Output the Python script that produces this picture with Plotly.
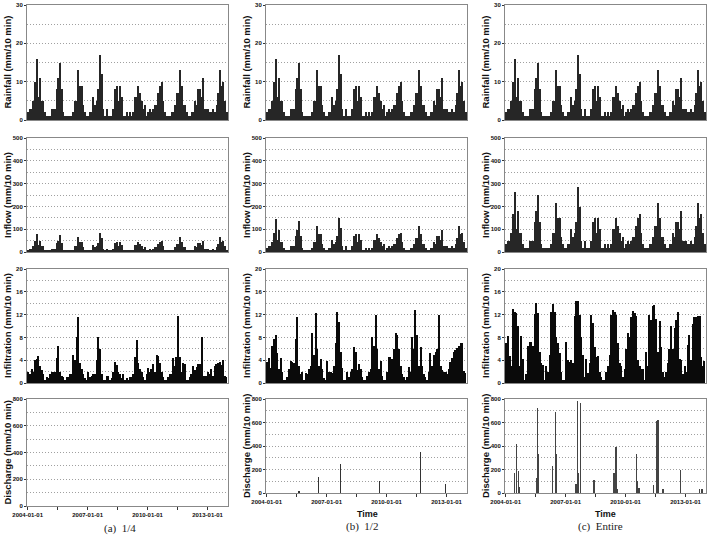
import pandas as pd
import plotly.graph_objects as go
from plotly.subplots import make_subplots

# ---------------- data (monthly peak values, Jan 2004 - Dec 2013) ----------------
rain = [2, 3, 3, 5, 10, 16, 6, 11, 5, 5, 2, 1,
        1, 1, 3, 3, 3, 8, 11, 15, 8, 2, 1, 1,
        1, 1, 1, 2, 5, 5, 13, 9, 9, 4, 2, 1,
        1, 2, 2, 6, 4, 5, 8, 17, 12, 3, 1, 3,
        1, 1, 1, 3, 8, 9, 5, 9, 6, 1, 1, 2,
        1, 2, 1, 2, 6, 6, 9, 7, 5, 3, 4, 1,
        2, 3, 2, 3, 4, 4, 7, 9, 10, 5, 2, 1,
        1, 1, 2, 2, 4, 7, 7, 13, 9, 4, 4, 2,
        1, 1, 2, 2, 5, 4, 8, 8, 6, 11, 3, 3,
        3, 2, 2, 3, 2, 4, 7, 13, 9, 10, 5, 2]

inflow_a = [10, 15, 15, 25, 50, 78, 30, 50, 25, 25, 10, 5,
            5, 5, 15, 15, 15, 40, 50, 75, 40, 10, 5, 5,
            5, 5, 5, 10, 25, 25, 65, 45, 45, 20, 10, 5,
            5, 10, 10, 30, 20, 25, 40, 85, 60, 15, 5, 15,
            5, 5, 5, 15, 40, 45, 25, 45, 30, 5, 5, 10,
            5, 10, 5, 10, 30, 30, 45, 35, 25, 15, 20, 5,
            10, 15, 10, 15, 20, 20, 35, 45, 50, 25, 10, 5,
            5, 5, 10, 10, 20, 35, 35, 65, 45, 20, 20, 10,
            5, 5, 10, 10, 25, 20, 40, 40, 30, 50, 15, 15,
            15, 10, 10, 15, 10, 20, 35, 65, 45, 50, 25, 10]

inflow_b = [18, 27, 27, 44, 85, 145, 52, 95, 44, 44, 18, 9,
            9, 9, 27, 27, 27, 70, 95, 135, 70, 18, 9, 9,
            9, 9, 9, 18, 44, 44, 115, 80, 80, 35, 18, 9,
            9, 18, 18, 52, 35, 44, 70, 150, 105, 27, 9, 27,
            9, 9, 9, 27, 70, 80, 44, 80, 52, 9, 9, 18,
            9, 18, 9, 18, 52, 52, 80, 61, 44, 27, 35, 9,
            18, 27, 18, 27, 35, 35, 61, 80, 85, 44, 18, 9,
            9, 9, 18, 18, 35, 61, 61, 115, 80, 35, 35, 18,
            9, 9, 18, 18, 44, 35, 70, 70, 52, 95, 27, 27,
            27, 18, 18, 27, 18, 35, 61, 115, 80, 85, 44, 18]

inflow_c = [33, 50, 50, 83, 165, 265, 100, 180, 83, 83, 33, 18,
            18, 18, 50, 50, 50, 132, 180, 250, 132, 33, 18, 18,
            18, 18, 18, 33, 83, 83, 215, 150, 150, 66, 33, 18,
            18, 33, 33, 100, 66, 83, 132, 285, 198, 50, 18, 50,
            18, 18, 18, 50, 132, 150, 83, 150, 100, 18, 18, 33,
            18, 33, 18, 33, 100, 100, 150, 115, 83, 50, 66, 18,
            33, 50, 33, 50, 66, 66, 115, 150, 165, 83, 33, 18,
            18, 18, 33, 33, 66, 115, 115, 215, 150, 66, 66, 33,
            18, 18, 33, 33, 83, 66, 132, 132, 100, 180, 50, 50,
            50, 33, 33, 50, 33, 66, 115, 215, 150, 165, 83, 33]

infil_a = [2, 1.5, 2.5, 2, 4, 4.2, 4.8, 3, 2.3, 1.5, 0.5, 1,
           0.8, 1.5, 2, 2, 2, 4.3, 6.5, 2, 1.2, 1, 0.5, 1,
           1, 1.5, 1.5, 5, 4, 8, 11.5, 3.5, 2.5, 1.5, 0.8, 0.5,
           2, 1, 1.2, 1.5, 1.5, 4, 8, 6, 1.6, 0.6, 0.5, 1.2,
           1.2, 0.6, 0.8, 2, 3.6, 3.1, 2, 1.5, 0.8, 1.5, 0.6, 0.8,
           0.5, 1, 1, 1.5, 4.5, 7.6, 3.5, 2.5, 2, 1, 0.6, 1.5,
           2.6, 2, 2.5, 3.4, 2, 4.9, 4.8, 3.5, 2, 1, 0.5, 0.5,
           1, 1.5, 1.5, 4.4, 3, 4.5, 11.7, 4.6, 2, 3.5, 3.3, 0.5,
           0.5, 1, 1.5, 3, 2.2, 2.8, 3.3, 3.3, 8, 1.3, 1.2, 1.2,
           2, 1.5, 2.5, 1.3, 3, 3.3, 3.5, 3.6, 3.2, 4, 1.2, 1]

infil_b = [3.7, 4.3, 2.7, 6.5, 7.8, 8.5, 5.2, 2.5, 4.4, 2, 0.6, 0.5,
           1, 2.5, 3.8, 3.7, 3.5, 7.7, 11.5, 3, 1.5, 2, 0.6, 1.7,
           1.5, 2.5, 3, 8.8, 5, 12.2, 6, 3, 4.2, 2.5, 0.8, 0.5,
           3.8, 2, 2, 1.8, 3, 7, 12.5, 10.7, 5.5, 2.7, 0.5, 0.5,
           2, 1, 2, 2.5, 6.4, 5.5, 2.2, 3.3, 2.5, 1, 0.5, 0.5,
           1.3, 2, 2.5, 8, 6.5, 12, 6, 2.5, 3.8, 1.2, 0.5, 0.5,
           2, 4.5, 4.6, 4.2, 6, 8.7, 8.5, 6, 3, 1.5, 1, 0.5,
           1, 2.8, 2, 8, 6, 12.8, 8.5, 3, 6.3, 3, 1.5, 1,
           0.5, 2, 5.3, 3, 5, 5.5, 6, 12, 3, 2.2, 2, 2,
           1.5, 2.5, 3.6, 4.4, 5.5, 5.8, 6.2, 6.5, 7, 7.1, 2.1, 1.7]

infil_c = [7, 8.2, 4.8, 3, 13, 12.5, 12.3, 10, 3, 8.3, 4.2, 0.5,
           1.5, 6.5, 7.2, 7.2, 6.5, 12.1, 14, 12.2, 5.5, 3.5, 3.2, 0.5,
           3, 2, 5, 12.5, 13.8, 12.5, 8, 7, 5.3, 2, 0.5, 0.5,
           7.2, 4, 3.6, 4, 3.5, 11.8, 14.4, 14.3, 12, 8, 5, 1,
           4.2, 1.8, 3.5, 12, 10.5, 6.3, 4.5, 4.8, 2, 1, 0.5, 0.5,
           2, 3, 5, 12, 12.8, 12.5, 12, 7, 3.5, 3, 1, 2.5,
           6, 8.8, 8, 11.5, 12.7, 12.3, 11.8, 4, 3, 2.5, 2.5, 0.5,
           5.5, 3, 12, 11, 13.5, 13.7, 11.2, 5.5, 10.8, 6.3, 2, 1,
           2, 3.5, 6, 10, 6, 9.6, 11, 12.4, 4.2, 4, 1.5, 3,
           2, 6.7, 8.5, 4, 10.4, 11.5, 11.6, 11.7, 11.8, 4.5, 3, 3.8]

discharge_b_dates = ["2005-08-15", "2006-08-01", "2007-09-10", "2009-08-20",
                     "2011-09-15", "2012-12-10"]
discharge_b_vals = [15, 140, 245, 100, 345, 75]

discharge_c_dates = ["2004-06-15", "2004-07-12", "2004-08-18", "2004-09-01",
                     "2005-07-12", "2005-08-10", "2005-08-22", "2005-08-26",
                     "2006-05-05", "2006-07-05", "2006-07-15",
                     "2007-07-12", "2007-08-10", "2007-08-25", "2007-09-25",
                     "2008-06-02",
                     "2009-06-02", "2009-07-12", "2009-07-20", "2009-07-28",
                     "2010-07-22", "2010-08-10", "2010-09-05",
                     "2011-05-30", "2011-07-22", "2011-08-18", "2011-11-18",
                     "2012-10-01",
                     "2013-09-16", "2013-10-30"]
discharge_c_vals = [170, 415, 185, 50,
                    125, 720, 330, 55,
                    230, 690, 330,
                    80, 780, 170, 770,
                    110,
                    170, 390, 30, 30,
                    335, 100, 40,
                    65, 610, 625, 30,
                    200,
                    30, 30]

x_tickvals = ["2004-01-01", "2005-07-01", "2007-01-01", "2008-07-01",
              "2010-01-01", "2011-07-01", "2013-01-01"]
x_ticktext = ["2004-01-01", "", "2007-01-01", "", "2010-01-01", "", "2013-01-01"]

row_titles = ["Rainfall (mm/10 min)", "Inflow (mm/10 min)",
              "Infiltration (mm/10 min)", "Discharge (mm/10 min)"]
captions = ["(a)  1/4", "(b)  1/2", "(c)  Entire"]

# ---------------- figure ----------------
W, H = 711, 537
months = pd.date_range("2004-01-01", periods=120, freq="MS") + pd.Timedelta(days=15)
DAY = 86400000

fig = make_subplots(rows=4, cols=3)

series = {
    (1, 1): rain, (1, 2): rain, (1, 3): rain,
    (2, 1): inflow_a, (2, 2): inflow_b, (2, 3): inflow_c,
    (3, 1): infil_a, (3, 2): infil_b, (3, 3): infil_c,
}
for (r, c), vals in series.items():
    if r == 3:
        bw, col = 24, "#0a0a0a"
    else:
        bw, col = 18, "#262626"
    fig.add_trace(go.Bar(x=months, y=vals, width=bw * DAY,
                         marker=dict(color=col, line=dict(width=0))),
                  row=r, col=c)

fig.add_trace(go.Scatter(x=[], y=[], mode="lines"), row=4, col=1)
fig.add_trace(go.Bar(x=pd.to_datetime(discharge_b_dates), y=discharge_b_vals,
                     width=5 * DAY, marker=dict(color="#333333", line=dict(width=0))),
              row=4, col=2)
fig.add_trace(go.Bar(x=pd.to_datetime(discharge_c_dates), y=discharge_c_vals,
                     width=6 * DAY, marker=dict(color="#444444", line=dict(width=0))),
              row=4, col=3)

col_px = {1: (27, 228), 2: (266, 467), 3: (505, 706)}
row_px = {1: (5, 120), 2: (138, 252), 3: (269, 383), 4: (399, 493)}
y_cfg = {
    1: dict(range=[0, 30], tickvals=[0, 10, 20, 30], minor=5),
    2: dict(range=[0, 500], tickvals=[0, 100, 200, 300, 400, 500], minor=50),
    3: dict(range=[0, 20], tickvals=[0, 4, 8, 12, 16, 20], minor=2),
    4: dict(range=[0, 800], tickvals=[0, 200, 400, 600, 800], minor=100),
}
tickfont = dict(family="Liberation Sans, Arial", size=6, color="#111", weight="bold")
GRID = "#a0a0a0"
DASH = "1px,2px"

for r in range(1, 5):
    for c in range(1, 4):
        x0, x1 = col_px[c]
        y0, y1 = row_px[r]
        if r == 4 and c == 1:
            y1 = 506
        fig.update_xaxes(
            domain=[x0 / W, x1 / W], automargin=False,
            range=["2003-12-20", "2014-01-10"],
            type="date",
            showline=True, mirror=True, linecolor="#888", linewidth=1,
            showgrid=False, zeroline=False,
            tickvals=x_tickvals, ticktext=x_ticktext,
            ticks="outside" if r == 4 else "", ticklen=3, tickcolor="#333",
            showticklabels=(r == 4), tickfont=tickfont,
            row=r, col=c)
        cfg = y_cfg[r]
        fig.update_yaxes(
            domain=[1 - y1 / H, 1 - y0 / H], automargin=False,
            range=cfg["range"], tickvals=cfg["tickvals"],
            showline=True, mirror=True, linecolor="#888", linewidth=1,
            showgrid=True, gridcolor=GRID, griddash=DASH, gridwidth=1,
            minor=dict(dtick=cfg["minor"], tick0=0, showgrid=True,
                       gridcolor=GRID, griddash=DASH, gridwidth=1, ticks=""),
            zeroline=False, ticks="outside", ticklen=2, tickcolor="#333",
            tickfont=tickfont,
            row=r, col=c)

annotations = []
title_font = dict(family="Liberation Sans, Arial", size=9.5, color="#111", weight="bold")
for c in range(1, 4):
    x0, x1 = col_px[c]
    for r in range(1, 5):
        y0, y1 = row_px[r]
        if r == 4 and c == 1:
            y1 = 506
        annotations.append(dict(
            text=row_titles[r - 1], textangle=-90, showarrow=False,
            xref="paper", yref="paper", x=(x0 - 20) / W, y=1 - (y0 + y1) / 2 / H,
            xanchor="center", yanchor="middle", font=title_font))

cap_pos = [(120, 528), (362, 526), (600, 526)]
for (cx, cy), txt in zip(cap_pos, captions):
    annotations.append(dict(
        text=txt, showarrow=False, xref="paper", yref="paper",
        x=cx / W, y=1 - cy / H, xanchor="center", yanchor="middle",
        font=dict(family="Liberation Serif, DejaVu Serif", size=11, color="#222")))

for tx in (367, 605):
    annotations.append(dict(
        text="Time", showarrow=False, xref="paper", yref="paper",
        x=tx / W, y=1 - 514 / H, xanchor="center", yanchor="middle",
        font=dict(family="Liberation Sans, Arial", size=9, color="#111", weight="bold")))

fig.update_layout(
    width=W, height=H,
    margin=dict(l=0, r=0, t=0, b=0),
    paper_bgcolor="white", plot_bgcolor="white",
    showlegend=False, bargap=0,
    annotations=annotations,
)

fig.write_html("out.html")
